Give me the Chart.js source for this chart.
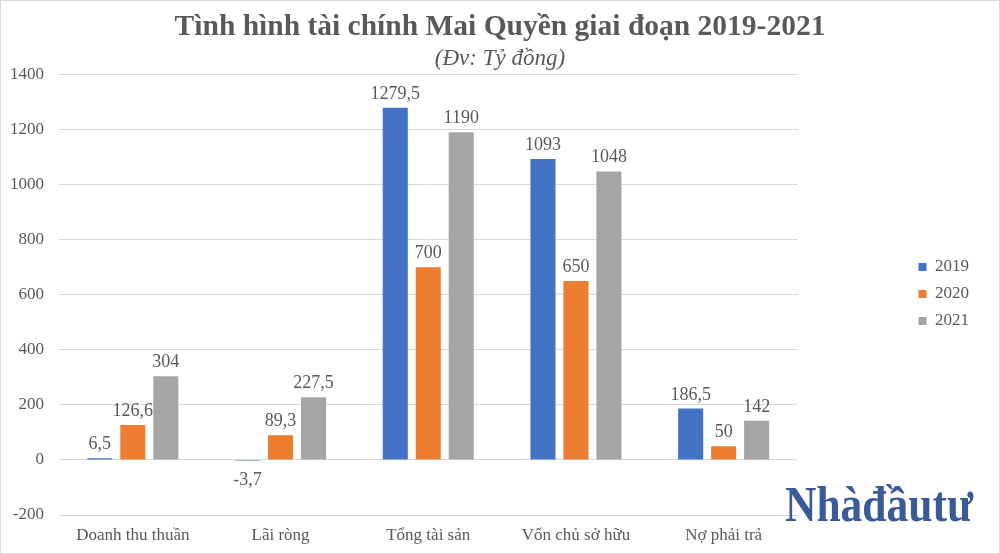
<!DOCTYPE html>
<html lang="vi">
<head>
<meta charset="utf-8">
<title>Tình hình tài chính Mai Quyền giai đoạn 2019-2021</title>
<script src="https://cdn.jsdelivr.net/npm/chart.js@4.4.1/dist/chart.umd.min.js"></script>
<style>
  html, body { margin: 0; padding: 0; background: #fff; }
  #wrap { position: relative; width: 1000px; height: 554px; }
  #frame { position: absolute; inset: 0; border: 1px solid #d9d9d9; pointer-events: none; }
  #logo {
    position: absolute; left: 785px; top: 479px;
    font-family: 'Liberation Serif', serif; font-weight: bold; font-size: 50px;
    line-height: 1; color: #3c5a9a; white-space: nowrap;
    transform: scaleX(0.87); transform-origin: left top;
  }
</style>
</head>
<body>
<div id="wrap">
  <canvas id="chart" width="1000" height="554"></canvas>
  <div id="logo">Nhàđầutư</div>
  <div id="frame"></div>
</div>
<script>
// dữ liệu (tỷ đồng)
const categories = ['Doanh thu thuần', 'Lãi ròng', 'Tổng tài sản', 'Vốn chủ sở hữu', 'Nợ phải trả'];
const years = ['2019', '2020', '2021'];
const v2019 = [6.5, -3.7, 1279.5, 1093, 186.5];
const v2020 = [126.6, 89.3, 700, 650, 50];
const v2021 = [304, 227.5, 1190, 1048, 142];
const colors = ['#4472C4', '#ED7D31', '#A5A5A5'];

const textColor = '#595959';
const serif = "'Liberation Serif', 'Times New Roman', serif";

// nhãn giá trị trên đầu cột (dấu phẩy thập phân)
const barLabels = {
  id: 'barLabels',
  afterDatasetsDraw(chart) {
    const { ctx } = chart;
    ctx.save();
    ctx.font = `18px ${serif}`;
    ctx.fillStyle = textColor;
    ctx.textAlign = 'center';
    ctx.textBaseline = 'alphabetic';
    chart.data.datasets.forEach((ds, i) => {
      chart.getDatasetMeta(i).data.forEach((bar, j) => {
        const v = ds.data[j];
        const txt = String(v).replace('.', ',');
        const y = v < 0 ? bar.y + 24 : bar.y - 9;
        ctx.fillText(txt, bar.x, y);
      });
    });
    ctx.restore();
  },
};

// trục trống chỉ để chừa khoảng trống
const spacer = (w, weight) => ({
  position: 'right',
  weight,
  grid: { display: false, drawTicks: false },
  border: { display: false },
  ticks: { display: false },
  afterFit(s) { s.width = w; },
});

new Chart(document.getElementById('chart'), {
  type: 'bar',
  data: {
    labels: categories,
    datasets: [v2019, v2020, v2021].map((d, i) => ({
      label: years[i],
      data: d,
      backgroundColor: colors[i],
      categoryPercentage: 0.67,
      barPercentage: 0.76,
    })),
  },
  options: {
    responsive: false,
    animation: false,
    layout: { padding: 0 },
    plugins: {
      title: {
        display: true,
        text: 'Tình hình tài chính Mai Quyền giai đoạn 2019-2021',
        color: textColor,
        font: { family: serif, size: 29.5, weight: 'bold' },
        padding: { top: 10, bottom: 0 },
      },
      subtitle: {
        display: true,
        text: '(Đv: Tỷ đồng)',
        color: textColor,
        font: { family: serif, size: 23, style: 'italic' },
        padding: { top: 0, bottom: 1.5 },
      },
      legend: {
        position: 'right',
        // tiêu đề rỗng chỉ để đẩy chú thích xuống giữa vùng vẽ
        title: { display: true, text: ' ', font: { size: 10 }, padding: { top: 22, bottom: 0 } },
        labels: {
          color: textColor,
          boxWidth: 8, boxHeight: 8, padding: 10,
          font: { family: serif, size: 17 },
        },
      },
      tooltip: { enabled: false },
    },
    scales: {
      x: {
        grid: { display: false, drawTicks: false },
        border: { display: false },
        ticks: { color: textColor, padding: 10, font: { family: serif, size: 17 } },
        afterFit(s) { s.height = 39; },
      },
      y: {
        min: -200, max: 1400,
        ticks: { stepSize: 200, color: textColor, padding: 15, font: { family: serif, size: 17 }, callback: v => String(v) },
        grid: { color: '#d9d9d9', drawTicks: false },
        border: { display: false },
        afterFit(s) { s.width = 59; },
      },
      gapIn: spacer(111, 0),
      gapOut: spacer(21, 2000),
    },
  },
  plugins: [barLabels],
});
</script>
</body>
</html>
